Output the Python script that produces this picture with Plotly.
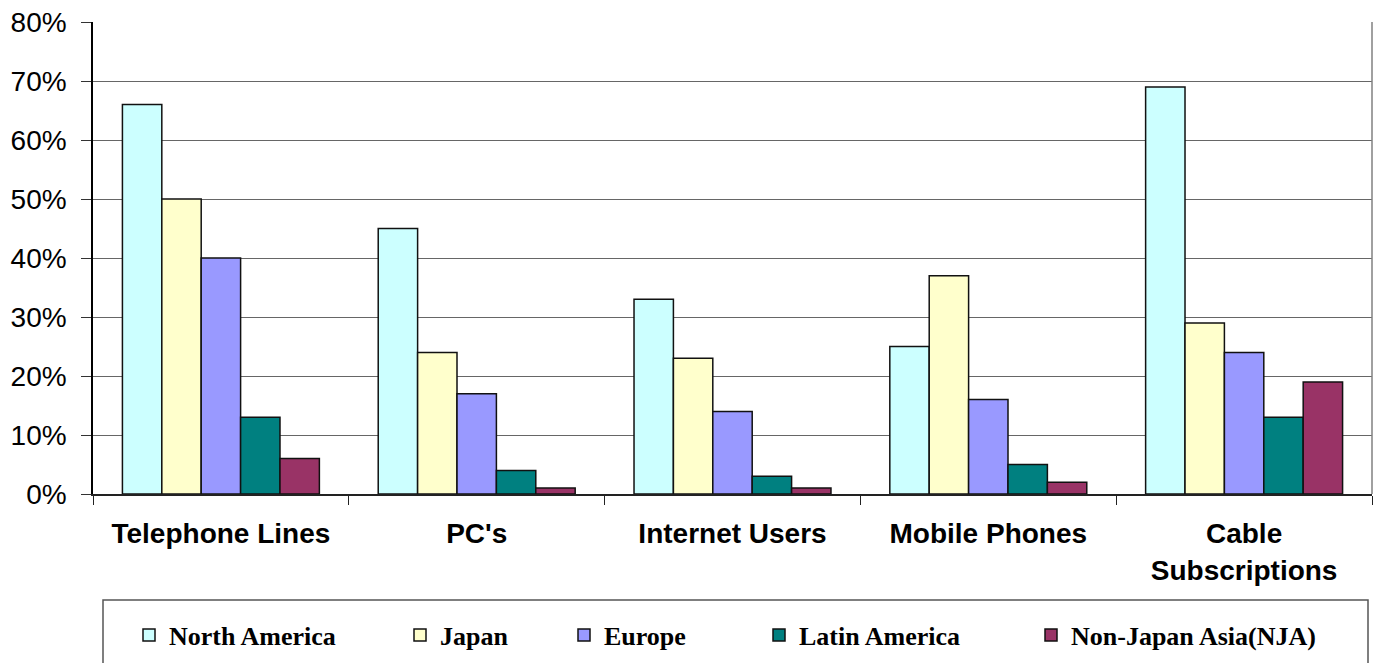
import plotly.graph_objects as go

categories = ["Telephone Lines", "PC's", "Internet Users", "Mobile Phones", "Cable<br>Subscriptions"]
north_america = [66, 45, 33, 25, 69]
japan = [50, 24, 23, 37, 29]
europe = [40, 17, 14, 16, 24]
latin_america = [13, 4, 3, 5, 13]
nja = [6, 1, 1, 2, 19]

series = [
    ("North America", north_america, "#CCFFFF"),
    ("Japan", japan, "#FFFFCC"),
    ("Europe", europe, "#9999FF"),
    ("Latin America", latin_america, "#008080"),
    ("Non-Japan Asia(NJA)", nja, "#993366"),
]
legend_ids = ["legend", "legend2", "legend3", "legend4", "legend5"]
# page-pixel left edges of each legend entry
legend_x_px = [129, 400, 564, 759, 1031]

# the page body adds an 8px offset; figure is sized to fill the rest of the window
W, H, OFF = 1373, 655, 8

fig = go.Figure()
for (name, vals, color), lid in zip(series, legend_ids):
    fig.add_trace(go.Bar(
        x=categories, y=[v / 100 for v in vals], name=name,
        marker=dict(color=color, line=dict(color="#111111", width=1.5)),
        legend=lid,
    ))

leg_font = dict(family="Liberation Serif, Times New Roman, serif", size=26, color="black", weight="bold")
legend_layout = {}
for lid, px in zip(legend_ids, legend_x_px):
    legend_layout[lid] = dict(
        x=(px - OFF) / W, y=(663 - 635) / H, xref="container", yref="container",
        xanchor="left", yanchor="middle", orientation="h",
        font=leg_font, bgcolor="rgba(0,0,0,0)", borderwidth=0,
        itemwidth=30,
    )

fig.update_layout(
    width=W, height=H,
    margin=dict(l=85, r=9, t=14, b=169, autoexpand=False),
    paper_bgcolor="white", plot_bgcolor="white",
    barmode="group", bargap=0.23, bargroupgap=0,
    showlegend=True,
    font=dict(family="Arial, Liberation Sans, sans-serif", color="black"),
    **legend_layout,
)

fig.update_xaxes(
    showline=True, linecolor="#222222", linewidth=1.5,
    ticks="outside", tickson="boundaries", ticklen=9, tickcolor="#222222",
    tickfont=dict(family="Arial, Liberation Sans, sans-serif", size=28, color="black", weight="bold"),
    ticklabelstandoff=14,
    showgrid=False,
)
fig.update_yaxes(
    range=[0, 0.8], dtick=0.1, tickformat=".0%",
    showline=True, linecolor="black", linewidth=1.5,
    ticks="outside", ticklen=10, tickcolor="#333333",
    tickfont=dict(family="Arial, Liberation Sans, sans-serif", size=28, color="black"),
    ticklabelstandoff=9, ticklabeloverflow="allow",
    showgrid=True, gridcolor="#666666", gridwidth=1,
    zeroline=False,
)

fig.add_shape(type="line", xref="paper", yref="paper", x0=1, x1=1, y0=0, y1=1,
              line=dict(color="#808080", width=1.5))
fig.add_shape(type="rect", xref="paper", yref="paper",
              x0=(103 - 93) / 1279, x1=(1368 - 93) / 1279,
              y0=(494 - 668) / 472, y1=(494 - 600) / 472,
              line=dict(color="#555555", width=1.5))

fig.write_html("out.html")
